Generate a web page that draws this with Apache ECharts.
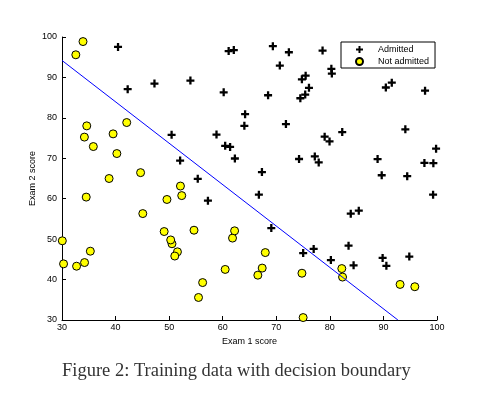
<!DOCTYPE html>
<html>
<head>
<meta charset="utf-8">
<script src="https://cdn.jsdelivr.net/npm/echarts@6/dist/echarts.min.js"></script>
<style>
  html, body { margin: 0; padding: 0; background: #fff; }
  #chart { width: 498px; height: 396px; }
</style>
</head>
<body>
<div id="chart"></div>
<script>
// exam scores, admitted students
const admittedX = [60.18, 79.03, 61.11, 75.02, 76.10, 84.43, 82.31, 69.36, 53.97, 69.07,
  70.66, 76.98, 89.68, 77.92, 62.27, 80.19, 61.38, 85.40, 52.05, 64.18,
  83.90, 94.44, 77.19, 97.77, 62.07, 91.56, 79.94, 99.27, 90.55, 97.65,
  74.25, 71.80, 75.40, 40.46, 80.28, 66.75, 64.04, 72.35, 60.46, 58.84,
  99.83, 47.26, 50.46, 88.91, 94.83, 67.32, 57.24, 80.37, 68.47, 75.48,
  78.64, 94.09, 90.45, 74.49, 89.85, 83.49, 42.26, 99.32, 55.34, 74.78]
const admittedY = [86.31, 75.34, 96.51, 46.55, 87.42, 43.53, 76.48, 97.72, 89.21, 52.74,
  92.93, 47.58, 65.80, 68.97, 69.95, 44.82, 72.81, 57.05, 69.43, 80.91,
  56.31, 65.57, 70.46, 86.73, 96.77, 88.70, 74.16, 61.00, 43.39, 68.86,
  69.82, 78.45, 85.76, 97.54, 92.12, 60.99, 78.03, 96.23, 73.09, 75.86,
  72.37, 88.48, 75.81, 69.80, 45.69, 66.59, 59.51, 90.96, 85.59, 90.42,
  96.65, 77.16, 87.51, 84.85, 45.36, 48.38, 87.10, 68.78, 64.93, 89.53]

// not admitted
const rejectedX = [34.62, 30.29, 35.85, 45.08, 95.86, 75.01, 39.54, 67.95, 67.37, 50.53,
  34.21, 93.11, 61.83, 38.79, 52.11, 40.24, 54.64, 33.92, 74.79, 34.18,
  51.55, 82.37, 51.05, 62.22, 34.52, 50.29, 49.59, 32.58, 35.29, 56.25,
  30.06, 44.67, 66.56, 49.07, 32.72, 60.46, 82.23, 42.08, 52.35, 55.48]
const rejectedY = [78.02, 43.89, 72.90, 56.32, 38.23, 30.60, 76.04, 46.68, 42.84, 48.86,
  44.21, 38.80, 50.26, 65.00, 63.13, 71.17, 52.21, 98.87, 41.57, 75.24,
  46.86, 40.62, 45.82, 52.06, 60.40, 49.80, 59.81, 95.60, 47.02, 39.26,
  49.59, 66.45, 41.09, 51.88, 43.31, 42.51, 42.72, 78.84, 60.77, 35.57]

// decision boundary end points (as seen inside the axes)
const boundaryX = [30, 92.7]
const boundaryY = [94.2, 30]

const plusPath = 'path://M0,2.5H2.5V0H4.5V2.5H7V4.5H4.5V7H2.5V4.5H0Z'
const font = 'Liberation Sans, Arial, sans-serif'

const zip = (xs, ys) => xs.map((x, i) => [x, ys[i]])

const axisCommon = {
    min: 30,
    max: 100,
    interval: 10,
    axisLine: { show: true, lineStyle: { color: '#000', width: 1 } },
    axisTick: { show: true, inside: true, length: 4, lineStyle: { color: '#000' } },
    splitLine: { show: false },
    nameLocation: 'middle',
    nameTextStyle: { fontFamily: font, fontSize: 9, color: '#000' },
}

const myChart = echarts.init(document.getElementById('chart'), null, { renderer: 'canvas' })
myChart.setOption({
    animation: false,
    backgroundColor: '#fff',
    grid: { left: 62, right: 61, top: 37, bottom: 76, containLabel: false, outerBoundsMode: 'none' },
    xAxis: {
        ...axisCommon,
        type: 'value',
        name: 'Exam 1 score',
        nameGap: 15,
        axisLabel: { fontFamily: font, fontSize: 9, color: '#000', margin: 3 },
    },
    yAxis: {
        ...axisCommon,
        type: 'value',
        name: 'Exam 2 score',
        nameGap: 25,
        nameMoveOverlap: false,
        axisLabel: { fontFamily: font, fontSize: 9, color: '#000', margin: 5 },
    },
    legend: {
        data: ['Admitted', 'Not admitted'],
        orient: 'vertical',
        left: 341,
        top: 42,
        padding: [3, 6, 2, 14],
        itemWidth: 7,
        itemHeight: 7,
        itemGap: 3,
        borderColor: '#000',
        borderWidth: 1,
        borderRadius: 0,
        backgroundColor: '#fff',
        textStyle: { fontFamily: font, fontSize: 9, color: '#000', lineHeight: 9, padding: [0, 0, 0, 10] },
    },
    graphic: [{
        type: 'text',
        left: 62,
        top: 362,
        style: {
            text: 'Figure 2: Training data with decision boundary',
            font: '18.5px "Liberation Serif", "DejaVu Serif", serif',
            fill: '#333',
        },
    }],
    series: [
        {
            name: 'Admitted',
            type: 'scatter',
            symbol: plusPath,
            symbolSize: 8,
            itemStyle: { color: '#000', opacity: 1 },
            data: zip(admittedX, admittedY),
        },
        {
            name: 'Not admitted',
            type: 'scatter',
            symbol: 'circle',
            symbolSize: 8,
            itemStyle: { color: '#ffff00', borderColor: '#000', borderWidth: 1, opacity: 1 },
            data: zip(rejectedX, rejectedY),
        },
        {
            name: 'Decision boundary',
            type: 'line',
            symbol: 'none',
            lineStyle: { color: '#0000ff', width: 1 },
            data: zip(boundaryX, boundaryY),
            z: 3,
        },
    ],
})
</script>
</body>
</html>
